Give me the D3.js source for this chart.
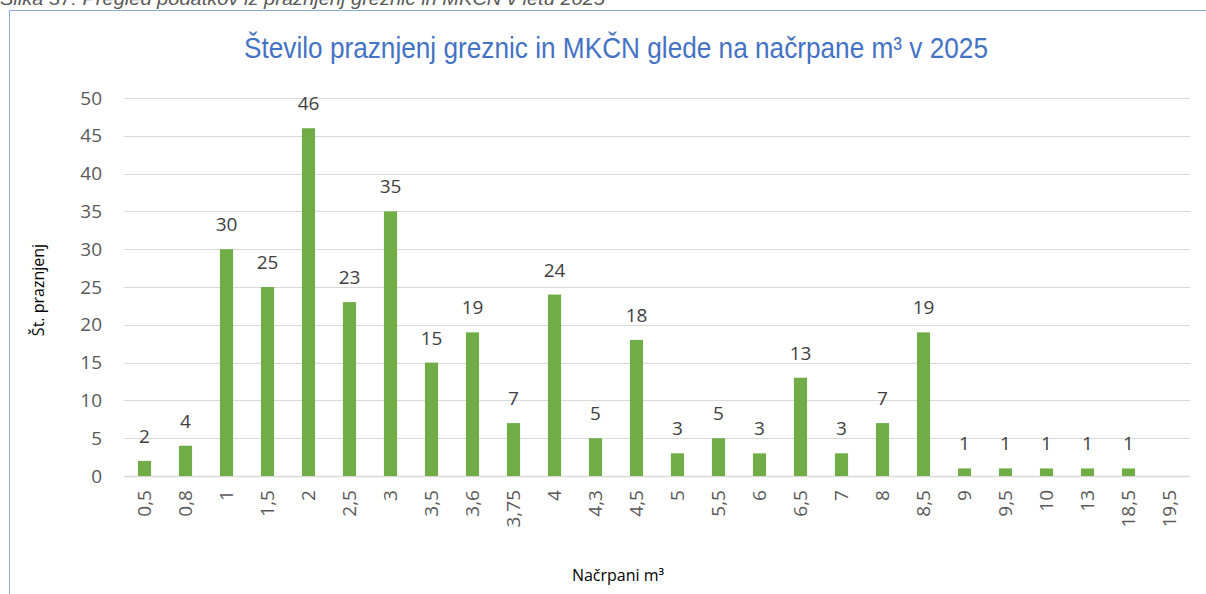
<!DOCTYPE html>
<html>
<head>
<meta charset="utf-8">
<script src="https://cdn.jsdelivr.net/npm/d3@7"></script>
<style>
  body { margin: 0; background: #fff; }
  svg { display: block; }
</style>
</head>
<body>
<svg id="chart" width="1206" height="594"></svg>
<script>
// data
const categories = ["0,5", "0,8", "1", "1,5", "2", "2,5", "3", "3,5", "3,6", "3,75", "4", "4,3", "4,5",
                    "5", "5,5", "6", "6,5", "7", "8", "8,5", "9", "9,5", "10", "13", "18,5", "19,5"];
const counts = [2, 4, 30, 25, 46, 23, 35, 15, 19, 7, 24, 5, 18,
                3, 5, 3, 13, 3, 7, 19, 1, 1, 1, 1, 1, 0];
const yTicks = [0, 5, 10, 15, 20, 25, 30, 35, 40, 45, 50];

const svg = d3.select("#chart");
const margin = { left: 124, right: 16 };
const width = 1206;

// caption above the frame (cut off at the top, as in the source)
svg.append("text")
  .attr("x", 0).attr("y", 5)
  .attr("font-family", "Liberation Sans, Arial, sans-serif")
  .attr("font-style", "italic")
  .attr("font-size", 19)
  .attr("fill", "#595959")
  .attr("textLength", 605)
  .attr("lengthAdjust", "spacingAndGlyphs")
  .text("Slika 37: Pregled podatkov iz praznjenj greznic in MKČN v letu 2025");

// frame
svg.append("path")
  .attr("d", "M9.5,594 V10.5 H1206")
  .attr("fill", "none")
  .attr("stroke", "#8eaadb")
  .attr("stroke-width", 1);

const x = d3.scaleBand()
  .domain(categories)
  .range([margin.left, width - margin.right])
  .paddingInner(0.68).paddingOuter(0.34);

const y = d3.scaleLinear()
  .domain([0, 50])
  .range([476, 98]);

// gridlines
svg.append("g")
  .selectAll("line")
  .data(yTicks)
  .join("line")
  .attr("x1", margin.left).attr("x2", width - margin.right)
  .attr("y1", d => Math.round(y(d)) + 0.5).attr("y2", d => Math.round(y(d)) + 0.5)
  .attr("stroke", "#d9d9d9")
  .attr("stroke-width", d => d === 0 ? 1.5 : 1.2);

// y axis labels
const yAxis = svg.append("g")
  .attr("transform", `translate(${margin.left},0)`)
  .call(d3.axisLeft(y).tickValues(yTicks).tickSize(0).tickPadding(22));
yAxis.select(".domain").remove();
yAxis.selectAll("text")
  .attr("font-family", "Open Sans, sans-serif")
  .attr("font-size", 19)
  .attr("fill", "#595959");

// x axis labels (rotated)
const xAxis = svg.append("g")
  .attr("transform", `translate(0,${y(0)})`)
  .call(d3.axisBottom(x).tickSize(0).tickPadding(0));
xAxis.select(".domain").remove();
xAxis.selectAll("text")
  .attr("font-family", "Open Sans, sans-serif")
  .attr("font-size", 19)
  .attr("fill", "#595959")
  .attr("text-anchor", "end")
  .attr("dy", "0.35em")
  .attr("transform", "translate(0,14) rotate(-90)")
  .attr("x", 0).attr("y", 0);

// bars
svg.append("g")
  .selectAll("rect")
  .data(counts)
  .join("rect")
  .attr("x", (d, i) => x(categories[i]))
  .attr("y", d => y(d))
  .attr("width", x.bandwidth())
  .attr("height", d => y(0) - y(d))
  .attr("fill", "#70ad47");

// data labels (none for zero)
svg.append("g")
  .selectAll("text")
  .data(counts.map((v, i) => ({ cat: categories[i], v })).filter(d => d.v > 0))
  .join("text")
  .attr("x", d => x(d.cat) + x.bandwidth() / 2)
  .attr("y", d => y(d.v) - 18)
  .attr("text-anchor", "middle")
  .attr("font-family", "Open Sans, sans-serif")
  .attr("font-size", 19)
  .attr("fill", "#404040")
  .text(d => d.v);

// title
svg.append("text")
  .attr("x", 616).attr("y", 58)
  .attr("text-anchor", "middle")
  .attr("font-family", "Liberation Sans, Arial, sans-serif")
  .attr("font-size", 30)
  .attr("fill", "#4472c4")
  .attr("textLength", 744)
  .attr("lengthAdjust", "spacingAndGlyphs")
  .text("Število praznjenj greznic in MKČN glede na načrpane m³ v 2025");

// axis titles
svg.append("text")
  .attr("transform", "translate(44,290) rotate(-90)")
  .attr("text-anchor", "middle")
  .attr("font-family", "Open Sans, sans-serif")
  .attr("font-size", 16)
  .attr("fill", "#000")
  .text("Št. praznjenj");

svg.append("text")
  .attr("x", 618).attr("y", 581)
  .attr("text-anchor", "middle")
  .attr("font-family", "Open Sans, sans-serif")
  .attr("font-size", 16)
  .attr("fill", "#000")
  .text("Načrpani m³");
</script>
</body>
</html>
